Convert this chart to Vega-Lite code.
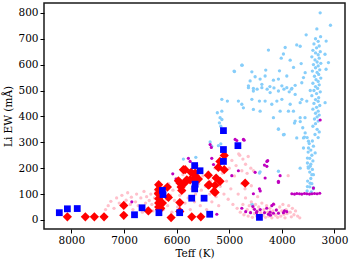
{
"$schema": "https://vega.github.io/schema/vega-lite/v6.json",
"width": 301, "height": 226,
"autosize": "none",
"padding": {"left": 44, "top": 3, "right": 5, "bottom": 33},
"background": "white",
"config": {
  "view": {"stroke": "#1a1a1a", "strokeWidth": 1.5},
  "axis": {"labelFont": "DejaVu Serif", "labelFontSize": 10.5, "labelColor": "#000", "titleFont": "DejaVu Serif", "titleFontSize": 10.5, "titleFontWeight": "normal", "titleColor": "#000", "tickColor": "#000", "tickSize": 4, "tickWidth": 1, "domain": false, "grid": false, "labelPadding": 2}
},
"datasets": {
"lb": [
{"t":3360,"ew":700},{"t":3310,"ew":690},{"t":3390,"ew":680},{"t":3290,"ew":672},{"t":3340,"ew":665},{"t":3410,"ew":655},{"t":3270,"ew":650},{"t":3360,"ew":645},{"t":3310,"ew":638},{"t":3430,"ew":630},{"t":3290,"ew":625},{"t":3370,"ew":618},{"t":3330,"ew":610},{"t":3260,"ew":605},{"t":3400,"ew":600},{"t":3310,"ew":595},{"t":3360,"ew":588},{"t":3280,"ew":580},{"t":3420,"ew":575},{"t":3330,"ew":570},{"t":3300,"ew":562},{"t":3380,"ew":555},{"t":3260,"ew":548},{"t":3350,"ew":542},{"t":3310,"ew":535},{"t":3410,"ew":528},{"t":3290,"ew":522},{"t":3360,"ew":515},{"t":3320,"ew":508},{"t":3390,"ew":500},{"t":3270,"ew":495},{"t":3340,"ew":488},{"t":3430,"ew":480},{"t":3300,"ew":472},{"t":3360,"ew":465},{"t":3310,"ew":458},{"t":3390,"ew":450},{"t":3280,"ew":442},{"t":3340,"ew":435},{"t":3410,"ew":428},{"t":3310,"ew":420},{"t":3360,"ew":412},{"t":3290,"ew":405},{"t":3330,"ew":398},{"t":3380,"ew":390},{"t":3310,"ew":382},{"t":3360,"ew":372},{"t":3410,"ew":362},{"t":3330,"ew":350},{"t":3290,"ew":340},{"t":3370,"ew":330},{"t":3310,"ew":318},
{"t":3420,"ew":305},{"t":3480,"ew":295},{"t":3400,"ew":285},{"t":3450,"ew":270},{"t":3500,"ew":262},{"t":3430,"ew":250},{"t":3470,"ew":238},{"t":3410,"ew":228},{"t":3450,"ew":215},{"t":3500,"ew":205},{"t":3420,"ew":195},{"t":3470,"ew":185},{"t":3400,"ew":175},{"t":3450,"ew":160},{"t":3510,"ew":150},{"t":3430,"ew":140},{"t":3470,"ew":128},{"t":3400,"ew":120},{"t":3520,"ew":112},{"t":3440,"ew":108},
{"t":3272,"ew":800},{"t":3076,"ew":752},{"t":3335,"ew":738},{"t":3538,"ew":715},{"t":3264,"ew":708},{"t":3158,"ew":691},{"t":3115,"ew":608},{"t":3160,"ew":582},{"t":3180,"ew":640},
{"t":4255,"ew":656},{"t":3937,"ew":666},{"t":3717,"ew":676},{"t":3970,"ew":641},{"t":3842,"ew":617},{"t":4012,"ew":625},{"t":3652,"ew":671},{"t":3633,"ew":604},{"t":3557,"ew":569},{"t":3589,"ew":550},{"t":3621,"ew":530},{"t":3778,"ew":589},{"t":3906,"ew":556},{"t":4045,"ew":576},{"t":4065,"ew":544},{"t":4160,"ew":540},{"t":4306,"ew":579},{"t":4318,"ew":556},{"t":4508,"ew":553},{"t":4413,"ew":544},{"t":4380,"ew":524},{"t":4570,"ew":572},{"t":4755,"ew":598},{"t":4907,"ew":575},{"t":4635,"ew":518},{"t":4541,"ew":508},{"t":4000,"ew":518},{"t":3809,"ew":508},{"t":3747,"ew":520},{"t":4227,"ew":515},
{"t":4635,"ew":511},{"t":4541,"ew":498},{"t":4470,"ew":505},{"t":4380,"ew":511},{"t":4280,"ew":505},{"t":4223,"ew":492},{"t":4150,"ew":510},{"t":4065,"ew":498},{"t":3960,"ew":505},{"t":3906,"ew":511},{"t":3860,"ew":495},{"t":3820,"ew":505},{"t":3747,"ew":485},{"t":3621,"ew":466},{"t":3652,"ew":453},{"t":3526,"ew":459},{"t":3460,"ew":500},{"t":5141,"ew":466},{"t":5035,"ew":459},{"t":4826,"ew":459},{"t":4761,"ew":447},{"t":4731,"ew":433},{"t":4570,"ew":466},{"t":4541,"ew":427},{"t":4426,"ew":459},{"t":4413,"ew":420},{"t":4318,"ew":459},{"t":4191,"ew":447},{"t":4095,"ew":459},{"t":4000,"ew":466},{"t":4033,"ew":420},{"t":3842,"ew":447},{"t":3875,"ew":420},{"t":3780,"ew":420},{"t":3652,"ew":395},{"t":3560,"ew":395},{"t":3178,"ew":453},{"t":4160,"ew":395},{"t":4065,"ew":350},{"t":3956,"ew":330},{"t":3747,"ew":382},{"t":3603,"ew":356},{"t":3557,"ew":336},{"t":3717,"ew":317},{"t":3589,"ew":317},{"t":3494,"ew":304},{"t":3589,"ew":278},{"t":3494,"ew":278},{"t":3367,"ew":259},{"t":3514,"ew":239},{"t":3462,"ew":207},{"t":5141,"ew":420},{"t":5140,"ew":388},
{"t":5174,"ew":395},{"t":5187,"ew":375},{"t":5160,"ew":362},{"t":5226,"ew":414},{"t":5363,"ew":301},{"t":5332,"ew":285},{"t":5160,"ew":294},{"t":5635,"ew":242},{"t":5871,"ew":235},{"t":5205,"ew":287},
{"t":4413,"ew":186},{"t":4065,"ew":188},{"t":4426,"ew":181},{"t":3652,"ew":200},{"t":3514,"ew":220},{"t":3430,"ew":175},{"t":3514,"ew":129},{"t":3400,"ew":125},{"t":3462,"ew":142},{"t":3494,"ew":200},{"t":4551,"ew":57},{"t":4570,"ew":61},{"t":3970,"ew":329},{"t":3571,"ew":320},{"t":3520,"ew":318},{"t":4065,"ew":352},{"t":3760,"ew":374},{"t":3650,"ew":380},{"t":4901,"ew":573},{"t":4761,"ew":598},{"t":4603,"ew":537}
],
"pk": [
{"t":7350,"ew":40},{"t":7300,"ew":55},{"t":7250,"ew":72},{"t":7190,"ew":45},{"t":7140,"ew":85},{"t":7090,"ew":65},{"t":7040,"ew":95},{"t":6990,"ew":50},{"t":6960,"ew":76},{"t":6930,"ew":105},{"t":6880,"ew":60},{"t":6860,"ew":88},{"t":6830,"ew":40},{"t":6780,"ew":70},{"t":6760,"ew":100},{"t":6730,"ew":55},{"t":6680,"ew":85},{"t":6650,"ew":30},{"t":6620,"ew":110},{"t":6590,"ew":65},{"t":6570,"ew":90},{"t":6550,"ew":45},{"t":6520,"ew":75},{"t":6490,"ew":100},{"t":6470,"ew":60},{"t":6450,"ew":35},{"t":6420,"ew":85},{"t":6400,"ew":115},{"t":6370,"ew":70},{"t":6350,"ew":50},{"t":6320,"ew":95},{"t":6280,"ew":125},{"t":6270,"ew":60},{"t":6250,"ew":40},{"t":6220,"ew":105},{"t":6190,"ew":80},{"t":6170,"ew":55},{"t":6150,"ew":140},{"t":6120,"ew":95},{"t":6090,"ew":30},{"t":6070,"ew":115},{"t":6040,"ew":75},{"t":6010,"ew":160},{"t":5980,"ew":50},{"t":5960,"ew":130},{"t":5940,"ew":95},{"t":5910,"ew":25},{"t":5880,"ew":175},{"t":5860,"ew":110},{"t":5840,"ew":65},{"t":5810,"ew":145},{"t":5780,"ew":85},{"t":5760,"ew":190},{"t":5740,"ew":40},{"t":5710,"ew":120},{"t":5680,"ew":160},{"t":5660,"ew":70},{"t":5640,"ew":100},{"t":5610,"ew":210},{"t":5580,"ew":140},{"t":5550,"ew":55},{"t":5530,"ew":115},{"t":5500,"ew":170},{"t":5470,"ew":90},{"t":5450,"ew":130},{"t":5430,"ew":40},{"t":5400,"ew":185},{"t":5370,"ew":100},{"t":5350,"ew":150},{"t":5330,"ew":70},{"t":5300,"ew":120},{"t":5270,"ew":200},{"t":5250,"ew":90},{"t":5230,"ew":160},{"t":5200,"ew":55},{"t":5170,"ew":130},{"t":5150,"ew":220},{"t":5130,"ew":180},{"t":5100,"ew":100},{"t":5070,"ew":240},{"t":5050,"ew":150},{"t":5020,"ew":80},{"t":5000,"ew":200},{"t":4970,"ew":120},{"t":4950,"ew":230},{"t":4930,"ew":60},{"t":4900,"ew":170},{"t":4870,"ew":210},{"t":4850,"ew":45},{"t":4830,"ew":100},{"t":4800,"ew":250},{"t":4790,"ew":30},{"t":4760,"ew":140},{"t":4740,"ew":60},{"t":4720,"ew":20},{"t":4690,"ew":85},{"t":4660,"ew":40},{"t":4640,"ew":15},{"t":4620,"ew":55},{"t":4600,"ew":30},{"t":4580,"ew":70},{"t":4560,"ew":10},{"t":4540,"ew":45},{"t":4520,"ew":25},{"t":4500,"ew":60},{"t":4480,"ew":15},{"t":4460,"ew":35},{"t":4440,"ew":50},{"t":4420,"ew":8},{"t":4400,"ew":28},{"t":4380,"ew":65},{"t":4360,"ew":18},{"t":4340,"ew":40},{"t":4310,"ew":10},{"t":4290,"ew":55},{"t":4270,"ew":30},{"t":4250,"ew":15},{"t":4230,"ew":45},{"t":4210,"ew":22},{"t":4190,"ew":8},{"t":4170,"ew":35},{"t":4150,"ew":60},{"t":4120,"ew":18},{"t":4100,"ew":40},{"t":4080,"ew":10},{"t":4060,"ew":28},{"t":4040,"ew":50},{"t":4020,"ew":15},{"t":4000,"ew":35},{"t":3980,"ew":60},{"t":3960,"ew":22},{"t":3940,"ew":8},{"t":3920,"ew":40},{"t":3900,"ew":25},{"t":3870,"ew":55},{"t":3840,"ew":30},{"t":3820,"ew":12},{"t":3800,"ew":45},{"t":3770,"ew":20},{"t":3740,"ew":35},{"t":3700,"ew":15},{"t":3660,"ew":8},
{"t":4820,"ew":255},{"t":4740,"ew":235},{"t":4690,"ew":215},{"t":4640,"ew":245},{"t":4590,"ew":200},{"t":4540,"ew":190},{"t":4760,"ew":190},{"t":4660,"ew":180},{"t":4580,"ew":132},{"t":3880,"ew":171},{"t":4700,"ew":120},{"t":4460,"ew":90}
],
"pu": [
{"t":6851,"ew":70},{"t":6073,"ew":178},{"t":6010,"ew":158},{"t":5776,"ew":238},{"t":5743,"ew":226},{"t":5332,"ew":238},{"t":5363,"ew":291},{"t":5340,"ew":280},{"t":5299,"ew":214},{"t":5236,"ew":22},{"t":4951,"ew":171},{"t":4888,"ew":311},{"t":4856,"ew":307},{"t":4731,"ew":311},{"t":4717,"ew":308},{"t":4826,"ew":190},{"t":4541,"ew":101},{"t":4508,"ew":184},{"t":4426,"ew":120},{"t":4411,"ew":112},{"t":4331,"ew":212},{"t":4318,"ew":162},{"t":4285,"ew":226},{"t":4268,"ew":229},{"t":4285,"ew":207},{"t":4065,"ew":149},{"t":4033,"ew":171},{"t":4065,"ew":145},{"t":4160,"ew":61},{"t":4191,"ew":55},{"t":4551,"ew":52},{"t":4761,"ew":45},{"t":4687,"ew":32},{"t":4595,"ew":28},{"t":4475,"ew":32},{"t":4411,"ew":40},{"t":4255,"ew":22},{"t":4223,"ew":30},{"t":4160,"ew":26},{"t":4105,"ew":38},{"t":4065,"ew":26},{"t":3970,"ew":28},{"t":3951,"ew":35},{"t":3906,"ew":32},{"t":4520,"ew":41},{"t":4482,"ew":28},{"t":4329,"ew":28},{"t":4288,"ew":45},{"t":4217,"ew":18},
{"t":3810,"ew":101},{"t":3760,"ew":100},{"t":3715,"ew":102},{"t":3665,"ew":101},{"t":3620,"ew":100},{"t":3570,"ew":102},{"t":3525,"ew":101},{"t":3475,"ew":100},{"t":3430,"ew":101},{"t":3380,"ew":102},{"t":3330,"ew":101},{"t":3280,"ew":103},{"t":3400,"ew":123},{"t":3272,"ew":386}
],
"rd": [
{"t":8076,"ew":12},{"t":7734,"ew":12},{"t":7563,"ew":12},{"t":7379,"ew":12},{"t":7004,"ew":18},{"t":7004,"ew":56},{"t":6537,"ew":35},{"t":6341,"ew":136},{"t":6341,"ew":118},{"t":6341,"ew":100},{"t":6341,"ew":82},{"t":6341,"ew":65},{"t":6341,"ew":50},{"t":6325,"ew":40},{"t":6175,"ew":127},{"t":6105,"ew":9},{"t":5939,"ew":67},{"t":5939,"ew":33},{"t":5902,"ew":138},{"t":5966,"ew":151},{"t":5915,"ew":127},{"t":5902,"ew":114},{"t":5933,"ew":142},{"t":5871,"ew":194},{"t":5838,"ew":194},{"t":5838,"ew":145},{"t":5806,"ew":155},{"t":5743,"ew":155},{"t":5725,"ew":184},{"t":5648,"ew":171},{"t":5648,"ew":162},{"t":5648,"ew":181},{"t":5585,"ew":158},{"t":5712,"ew":12},{"t":5540,"ew":12},{"t":5397,"ew":173},{"t":5397,"ew":134},{"t":5382,"ew":136},{"t":5287,"ew":110},{"t":5269,"ew":106},{"t":5269,"ew":134},{"t":5249,"ew":162},{"t":5207,"ew":203},{"t":5177,"ew":226},{"t":5174,"ew":149},{"t":5095,"ew":194},{"t":5095,"ew":249},{"t":4697,"ew":142},{"t":6270,"ew":65},{"t":6302,"ew":45},{"t":6347,"ew":103},{"t":6156,"ew":87}
],
"bl": [
{"t":8229,"ew":28},{"t":8076,"ew":43},{"t":7888,"ew":44},{"t":6800,"ew":20},{"t":6657,"ew":47},{"t":6336,"ew":28},{"t":6269,"ew":114},{"t":6259,"ew":98},{"t":5942,"ew":28},{"t":5713,"ew":84},{"t":5478,"ew":84},{"t":5657,"ew":210},{"t":5555,"ew":190},{"t":5657,"ew":120},{"t":5648,"ew":138},{"t":5371,"ew":22},{"t":5110,"ew":345},{"t":5110,"ew":272},{"t":5110,"ew":226},{"t":4835,"ew":287},{"t":4426,"ew":10}
]
},
"encoding": {
  "x": {"field": "t", "type": "quantitative", "scale": {"domain": [8520, 2800], "nice": false, "zero": false}, "axis": {"values": [3000, 4000, 5000, 6000, 7000, 8000], "format": "d", "title": "Teff (K)", "titlePadding": 3}},
  "y": {"field": "ew", "type": "quantitative", "scale": {"domain": [-35, 838], "nice": false, "zero": false}, "axis": {"values": [0, 100, 200, 300, 400, 500, 600, 700, 800], "format": "d", "title": "Li EW (mÅ)", "titlePadding": 4}}
},
"layer": [
  {"data": {"name": "lb"}, "mark": {"type": "point", "shape": "circle", "filled": true, "size": 11, "color": "#87CEFA", "opacity": 1}},
  {"data": {"name": "pk"}, "mark": {"type": "point", "shape": "circle", "filled": true, "size": 11, "color": "#FFC0CB", "opacity": 1}},
  {"data": {"name": "pu"}, "mark": {"type": "point", "shape": "circle", "filled": true, "size": 10, "color": "#BF00BF", "opacity": 1}},
  {"data": {"name": "rd"}, "mark": {"type": "point", "shape": "diamond", "filled": true, "size": 85, "color": "#FF0000", "opacity": 1}},
  {"data": {"name": "bl"}, "mark": {"type": "point", "shape": "square", "filled": true, "size": 46, "color": "#0000FF", "opacity": 1}}
]
}
